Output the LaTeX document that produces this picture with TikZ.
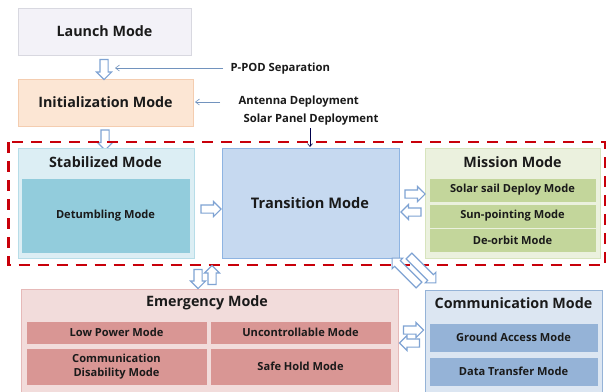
\documentclass[tikz,border=0pt]{standalone}
\usepackage{fontspec}
\setmainfont{Open Sans}
\usetikzlibrary{shapes.arrows,arrows.meta}

\definecolor{launchfill}{HTML}{F3F2F8}
\definecolor{launchdraw}{HTML}{D8D8E0}
\definecolor{initfill}{HTML}{FCE6D4}
\definecolor{initdraw}{HTML}{F4CDB0}
\definecolor{stabfill}{HTML}{DCEEF4}
\definecolor{stabdraw}{HTML}{B7DDE8}
\definecolor{stabin}{HTML}{92CCDC}
\definecolor{transfill}{HTML}{C6D9F0}
\definecolor{transdraw}{HTML}{8EB4E2}
\definecolor{misfill}{HTML}{EBF1DE}
\definecolor{misdraw}{HTML}{D7E4BD}
\definecolor{misin}{HTML}{C3D69B}
\definecolor{emfill}{HTML}{F2DCDB}
\definecolor{emdraw}{HTML}{E6B9B8}
\definecolor{emin}{HTML}{D99694}
\definecolor{comfill}{HTML}{DCE6F2}
\definecolor{comdraw}{HTML}{95B3D7}
\definecolor{comin}{HTML}{95B3D7}
\definecolor{arrowblue}{HTML}{7FA3D3}
\definecolor{framered}{HTML}{C8000A}
\definecolor{textdark}{HTML}{1A1A1A}

\tikzset{
  box/.style={draw, line width=0.8pt, inner sep=0pt},
  title/.style={font=\bfseries\fontsize{14.3}{16}\selectfont, text=textdark},
  label/.style={font=\bfseries\fontsize{11.1}{14.5}\selectfont, text=textdark, align=center},
  note/.style={font=\bfseries\fontsize{11.3}{13}\selectfont, text=textdark, anchor=west},
  blockarrow/.style={single arrow, draw=arrowblue, fill=white, line width=1.1pt,
    minimum height=20pt, minimum width=14pt, inner sep=3.5pt,
    single arrow head extend=3.5pt, single arrow head indent=0pt},
  pointer/.style={draw=arrowblue!90!black, line width=0.6pt, -{Straight Barb[length=4pt,width=6pt]}},
}

\begin{document}
\begin{tikzpicture}[x=1pt,y=-1pt]
\useasboundingbox (0,0) rectangle (607,391);
\fill[white] (0,0) rectangle (607,391);

% launch and initialization
\draw[box, draw=launchdraw, fill=launchfill] (18,8) rectangle (191,55);
\node[title] (launch) at (104.5,31.5) {Launch Mode};
\draw[box, draw=initdraw, fill=initfill] (18,79) rectangle (193,126);
\node[title] (init) at (105.5,102.5) {Initialization Mode};

\node[blockarrow, rotate=-90] (a1) at (104,67.5) {};
\node[blockarrow, rotate=-90] (a2) at (105,138) {};

\node[note] (ppod) at (227,69) {P-POD Separation};
\coordinate (ppodend) at (115,68);
\draw[pointer] (223,68) -- (ppodend);

\node[note] (ant) at (235,102) {Antenna Deployment};
\node[note] (sol) at (240,120) {Solar Panel Deployment};
\coordinate (antend) at (195,102);
\draw[pointer] (220,102) -- (antend);

% dashed frame around the nominal modes
\draw[framered, line width=2.6pt, dash pattern=on 11pt off 8pt] (8.5,142) rectangle (605,265);

% stabilized mode
\draw[box, draw=stabdraw, fill=stabfill] (18,148) rectangle (194,258);
\node[title] (stab) at (105.5,162) {Stabilized Mode};
\draw[box, draw=stabin, fill=stabin] (22,179) rectangle (189,252);
\node[label] (detum) at (105.5,216) {Detumbling Mode};

% transition mode
\draw[box, draw=transdraw, fill=transfill] (222,148) rectangle (399,258);
\node[title, font=\bfseries\fontsize{14.6}{16}\selectfont] (trans) at (310,203) {Transition Mode};
\coordinate (transtop) at (310,147);
\draw[draw=black!70!blue, line width=0.6pt, -{Straight Barb[length=3pt,width=5pt]}] (310,128) -- (transtop);

\node[blockarrow] (a3) at (209,209) {};

% mission mode
\draw[box, draw=misdraw, fill=misfill] (425,148) rectangle (600,258);
\node[title] (mis) at (512.5,162) {Mission Mode};
\draw[box, draw=misin, fill=misin] (430,179) rectangle (595,201);
\node[label] (sail) at (512.5,190) {Solar sail Deploy Mode};
\draw[box, draw=misin, fill=misin] (430,205) rectangle (595,227);
\node[label] (sun) at (512.5,216) {Sun-pointing Mode};
\draw[box, draw=misin, fill=misin] (430,229) rectangle (595,251);
\node[label] (deorb) at (512.5,240) {De-orbit Mode};

\node[blockarrow, minimum height=20pt] (a4) at (413,194) {};
\node[blockarrow, minimum height=20pt, rotate=180] (a5) at (413,212) {};

% emergency mode
\draw[box, draw=emdraw, fill=emfill] (21,289) rectangle (398,395);
\node[title] (emerg) at (207,302.5) {Emergency Mode};
\draw[box, draw=emin, fill=emin] (27,322) rectangle (206,343);
\node[label] (lowp) at (116.5,332.5) {Low Power Mode};
\draw[box, draw=emin, fill=emin] (211,322) rectangle (390,343);
\node[label] (unctl) at (300.5,332.5) {Uncontrollable Mode};
\draw[box, draw=emin, fill=emin] (27,349) rectangle (206,384);
\node[label] (comdis) at (116.5,366.5) {Communication\\Disability Mode};
\draw[box, draw=emin, fill=emin] (211,349) rectangle (390,384);
\node[label] (safe) at (300.5,366.5) {Safe Hold Mode};

\node[blockarrow, rotate=-90, minimum height=19pt] (a6) at (198,277) {};
\node[blockarrow, rotate=90, minimum height=19pt] (a7) at (212,277) {};

% communication mode
\draw[box, draw=comdraw, fill=comfill] (425,290) rectangle (602,395);
\node[title] (comm) at (513.5,303.5) {Communication Mode};
\draw[box, draw=comin, fill=comin] (430,324) rectangle (597,351);
\node[label] (ground) at (513.5,337.5) {Ground Access Mode};
\draw[box, draw=comin, fill=comin] (430,358) rectangle (597,385);
\node[label] (data) at (513.5,371.5) {Data Transfer Mode};

\node[blockarrow, minimum height=20pt] (a8) at (411.5,330) {};
\node[blockarrow, minimum height=20pt, rotate=180] (a9) at (411.5,343) {};

% diagonal pair between transition and communication
\node[blockarrow, rotate=135, minimum height=38pt] (a10) at (407,273) {};
\node[blockarrow, rotate=-45, minimum height=38pt] (a11) at (421,268) {};
\end{tikzpicture}
\end{document}
